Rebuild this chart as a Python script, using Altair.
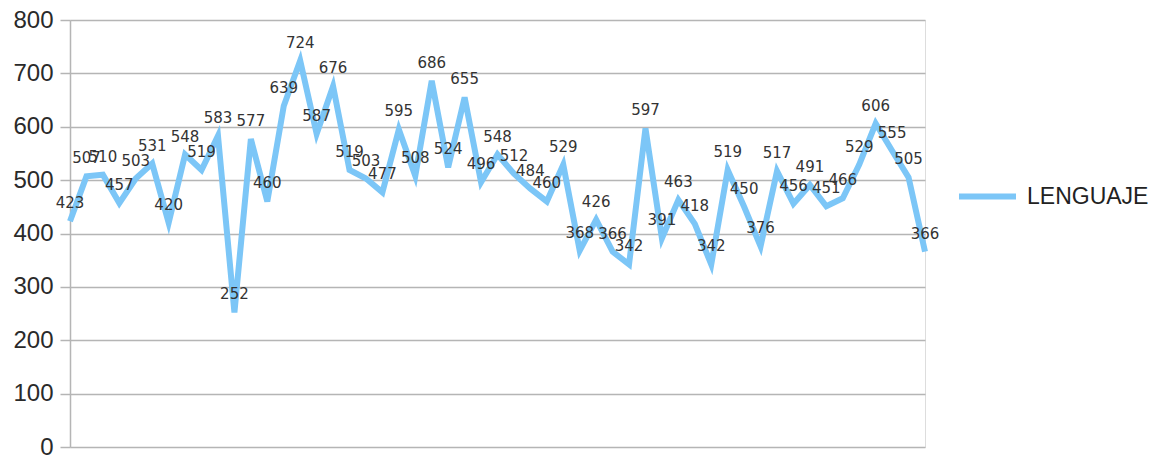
import altair as alt
import pandas as pd

values = [423, 507, 510, 457, 503, 531, 420, 548, 519, 583, 252, 577, 460, 639,
          724, 587, 676, 519, 503, 477, 595, 508, 686, 524, 655, 496, 548, 512,
          484, 460, 529, 368, 426, 366, 342, 597, 391, 463, 418, 342, 519, 450,
          376, 517, 456, 491, 451, 466, 529, 606, 555, 505, 366]
series = ["LENGUAJE"] * len(values)
idx = list(range(len(values)))

df = pd.DataFrame({"idx": idx, "value": values, "serie": series})

x = alt.X("idx:Q", scale=alt.Scale(domain=[0, len(values) - 1], nice=False, zero=False),
          axis=alt.Axis(labels=False, ticks=False, grid=False, domain=False, title=None))
y = alt.Y("value:Q", scale=alt.Scale(domain=[0, 800], nice=False),
          axis=alt.Axis(values=[0, 100, 200, 300, 400, 500, 600, 700, 800], title=None,
                        labelFont="Liberation Sans", labelFontSize=24, labelColor="#2a2a2a",
                        labelPadding=7, tickSize=10, tickColor="#b5b5b5", tickWidth=1.5,
                        domainColor="#b5b5b5", domainWidth=1.5,
                        gridColor="#b5b5b5", gridWidth=1.5))

line = alt.Chart(df).mark_line(strokeWidth=6, strokeJoin="miter").encode(
    x=x, y=y,
    color=alt.Color("serie:N", scale=alt.Scale(range=["#7cc6f7"]),
                    legend=alt.Legend(title=None, orient="none", legendX=886, legendY=145,
                                      symbolType="stroke", symbolSize=3249,
                                      symbolStrokeWidth=6, labelFont="Liberation Sans",
                                      labelFontSize=23, labelColor="#222222",
                                      labelOffset=8))
)

labels = alt.Chart(df).mark_text(font="DejaVu Sans", fontSize=15, color="#333333",
                                 dy=-18, baseline="middle").encode(
    x=x, y=y, text="value:Q"
)

chart = alt.layer(line, labels).properties(
    width=855, height=427,
    autosize=alt.AutoSizeParams(type="none"),
    padding={"left": 62, "top": 12, "right": 230, "bottom": 11},
).configure_view(stroke="#c8c8c8", strokeWidth=1.5).configure(background="white")

chart.save("out.html", embed_options={"renderer": "svg", "actions": False})
